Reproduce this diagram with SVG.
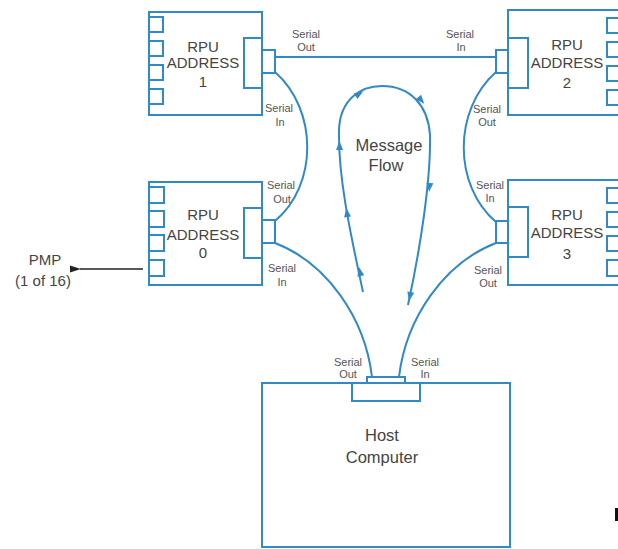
<svg xmlns="http://www.w3.org/2000/svg" xmlns:xlink="http://www.w3.org/1999/xlink" width="618" height="549" viewBox="0 0 618 549">
<style>
.box{fill:#fff;stroke:#3189c6;stroke-width:2}
.sq{fill:#fff;stroke:#3189c6;stroke-width:2}
.wire{fill:none;stroke:#3189c6;stroke-width:2}
.lbl{font-family:"Liberation Sans",Arial,sans-serif;font-size:15px;fill:#444;text-anchor:middle}
.big{font-family:"Liberation Sans",Arial,sans-serif;font-size:16.5px;fill:#444;text-anchor:middle}
.ser{font-family:"Liberation Sans",Arial,sans-serif;font-size:11px;fill:#555;text-anchor:middle}
</style>
<defs>
<polygon id="ah" points="5,0 -4,-3.5 -4,3.5" fill="#3189c6"/>
<marker id="blk" markerWidth="12" markerHeight="8" refX="1" refY="4" orient="auto" markerUnits="userSpaceOnUse">
<polygon points="0,4 11,0.5 11,7.5" fill="#222"/>
</marker>
</defs>
<rect width="618" height="549" fill="#fff"/>

<g id="connectors">
<line class="wire" x1="275" y1="57" x2="496" y2="57"/>
<path class="wire" d="M275,72 C318,110 318,185 275,221"/>
<path class="wire" d="M496,72 C453,110 453,185 496,222"/>
<path class="wire" d="M275,243 C327,263 365,318 372,377"/>
<path class="wire" d="M496,243 C444,263 406,318 399,377"/>
<path class="wire" d="M363,292 C352,240 338,180 339,130 C340,100 360,86 382,86 C410,86 428,105 430,135 C431,180 420,250 408,305"/>
<use xlink:href="#ah" href="#ah" transform="translate(360,272) rotate(-102)"/>
<use xlink:href="#ah" href="#ah" transform="translate(347,213) rotate(-98)"/>
<use xlink:href="#ah" href="#ah" transform="translate(339.5,146) rotate(-91)"/>
<use xlink:href="#ah" href="#ah" transform="translate(359,94) rotate(-32)"/>
<use xlink:href="#ah" href="#ah" transform="translate(421,100) rotate(50)"/>
<use xlink:href="#ah" href="#ah" transform="translate(429.5,187) rotate(95)"/>
<use xlink:href="#ah" href="#ah" transform="translate(410,296) rotate(101)"/>
<line x1="143" y1="269" x2="80" y2="269" stroke="#222" stroke-width="1.5" marker-end="url(#blk)"/>
</g>

<g id="rpu1">
<rect class="box" x="149" y="12" width="113" height="103"/>
<rect class="sq" x="149" y="17" width="14" height="15"/>
<rect class="sq" x="149" y="41" width="14" height="15"/>
<rect class="sq" x="149" y="65" width="14" height="15"/>
<rect class="sq" x="149" y="89" width="14" height="15"/>
<rect class="box" x="244" y="38" width="18" height="50"/>
<rect class="box" x="262" y="50" width="13" height="23"/>
<text class="lbl" x="203" y="52">RPU</text>
<text class="lbl" x="203" y="68">ADDRESS</text>
<text class="lbl" x="203" y="87">1</text>
</g>

<g id="rpu2">
<rect class="box" x="508" y="10" width="140" height="105"/>
<rect class="sq" x="607" y="18" width="20" height="15"/>
<rect class="sq" x="607" y="42" width="20" height="15"/>
<rect class="sq" x="607" y="66" width="20" height="15"/>
<rect class="sq" x="607" y="90" width="20" height="15"/>
<rect class="box" x="508" y="38" width="20" height="50"/>
<rect class="box" x="496" y="50" width="12" height="23"/>
<text class="lbl" x="567" y="50">RPU</text>
<text class="lbl" x="567" y="68">ADDRESS</text>
<text class="lbl" x="567" y="88">2</text>
</g>

<g id="rpu0">
<rect class="box" x="149" y="182" width="113" height="103"/>
<rect class="sq" x="149" y="187" width="15" height="16"/>
<rect class="sq" x="149" y="211" width="15" height="16"/>
<rect class="sq" x="149" y="235" width="15" height="16"/>
<rect class="sq" x="149" y="260" width="15" height="16"/>
<rect class="box" x="244" y="208" width="18" height="50"/>
<rect class="box" x="262" y="220" width="13" height="23"/>
<text class="lbl" x="203" y="220">RPU</text>
<text class="lbl" x="203" y="240">ADDRESS</text>
<text class="lbl" x="203" y="258">0</text>
</g>

<g id="rpu3">
<rect class="box" x="508" y="180" width="140" height="105"/>
<rect class="sq" x="607" y="188" width="20" height="15"/>
<rect class="sq" x="607" y="212" width="20" height="15"/>
<rect class="sq" x="607" y="236" width="20" height="15"/>
<rect class="sq" x="607" y="260" width="20" height="16"/>
<rect class="box" x="508" y="207" width="20" height="50"/>
<rect class="box" x="496" y="221" width="12" height="22"/>
<text class="lbl" x="567" y="220">RPU</text>
<text class="lbl" x="567" y="238">ADDRESS</text>
<text class="lbl" x="567" y="259">3</text>
</g>

<g id="host">
<rect class="box" x="262" y="383" width="248" height="164"/>
<rect class="box" x="352" y="383" width="68" height="18"/>
<rect class="box" x="367" y="377" width="38" height="6"/>
<text class="big" x="382" y="441">Host</text>
<text class="big" x="382" y="463">Computer</text>
</g>

<g id="labels">
<text class="big" x="389" y="151">Message</text>
<text class="big" x="386" y="171">Flow</text>
<text class="lbl" x="45" y="265">PMP</text>
<text class="lbl" x="43" y="286">(1 of 16)</text>
<text class="ser" x="306" y="38">Serial</text><text class="ser" x="306" y="51">Out</text>
<text class="ser" x="279" y="112">Serial</text><text class="ser" x="280" y="126">In</text>
<text class="ser" x="460" y="38">Serial</text><text class="ser" x="461" y="51">In</text>
<text class="ser" x="487" y="113">Serial</text><text class="ser" x="487" y="126">Out</text>
<text class="ser" x="281" y="189">Serial</text><text class="ser" x="282" y="203">Out</text>
<text class="ser" x="282" y="272">Serial</text><text class="ser" x="282" y="286">In</text>
<text class="ser" x="490" y="189">Serial</text><text class="ser" x="490" y="202">In</text>
<text class="ser" x="488" y="274">Serial</text><text class="ser" x="488" y="287">Out</text>
<text class="ser" x="348" y="366">Serial</text><text class="ser" x="348" y="378">Out</text>
<text class="ser" x="425" y="366">Serial</text><text class="ser" x="425" y="378">In</text>
</g>

<rect x="615" y="508" width="3" height="13" fill="#111"/>
</svg>
